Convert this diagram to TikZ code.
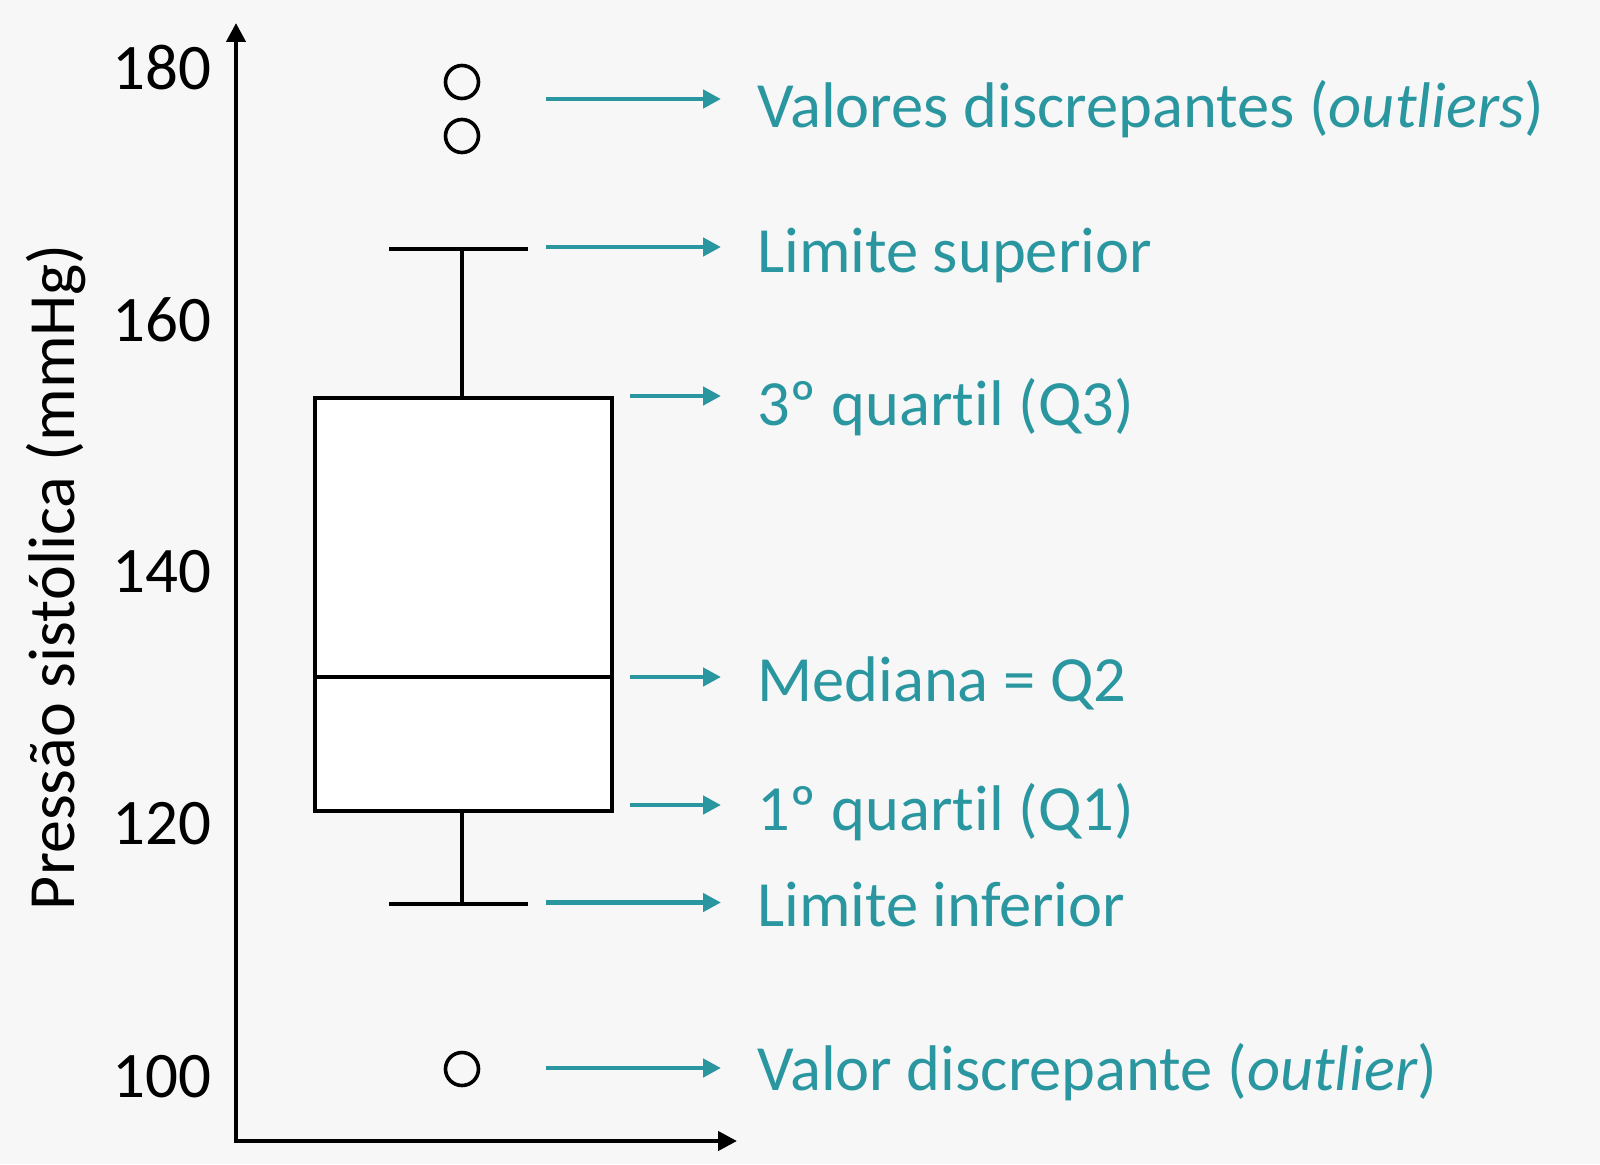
\documentclass[tikz,border=0pt]{standalone}
\usepackage{fontspec}
\setmainfont{Carlito}[Ligatures={NoCommon}]
\usetikzlibrary{arrows.meta}
\definecolor{tealc}{RGB}{41,150,160}
\definecolor{bgc}{RGB}{247,247,247}
\begin{document}
\begin{tikzpicture}[x=1pt,y=-1pt,
  blk/.style={line width=4.3pt,black},
  lbl/.style={text=tealc,font=\fontsize{64.5}{70}\selectfont,anchor=base west,inner sep=0pt},
  tickl/.style={font=\fontsize{65}{70}\selectfont,anchor=east,inner sep=0pt},
  ptr/.style={tealc,line width=4.6pt,-{Triangle[length=18pt,width=18pt]}},
  axisl/.style={line width=4.3pt,-{Triangle[length=19pt,width=19pt]}},
  outl/.style={circle,draw,line width=3.6pt,minimum size=33pt,inner sep=0pt}
]
\fill[bgc] (0,0) rectangle (1600,1164);
\useasboundingbox (0,0) rectangle (1600,1164);

% axes
\coordinate (Oy) at (236,1143);
\coordinate (Ox) at (234,1141);
\coordinate (Ytop) at (236,23);
\coordinate (Xend) at (737,1141);
\draw[axisl] (Oy) -- (Ytop);
\draw[axisl] (Ox) -- (Xend);

% tick labels
\node[tickl] (t180) at (212,68) {180};
\node[tickl] (t160) at (212,320) {160};
\node[tickl] (t140) at (212,572) {140};
\node[tickl] (t120) at (212,824) {120};
\node[tickl] (t100) at (212,1077) {100};

% axis title
\node[rotate=90,font=\fontsize{66}{70}\selectfont,inner sep=0pt] (ytitle) at (56,577) {Pressão sistólica (mmHg)};

% box
\coordinate (bxTL) at (315,398);
\coordinate (bxBR) at (612,811);
\draw[blk,fill=white] (bxTL) rectangle (bxBR);
\coordinate (medL) at (315,677);
\coordinate (medR) at (612,677);
\draw[blk,line width=3.8pt] (medL) -- (medR);
% whiskers
\coordinate (wTop) at (462,398);
\coordinate (wTopE) at (462,249);
\coordinate (capTL) at (389,249);
\coordinate (capTR) at (528,249);
\draw[blk] (wTop) -- (wTopE);
\draw[blk,line width=4.8pt] (capTL) -- (capTR);
\coordinate (wBot) at (462,811);
\coordinate (wBotE) at (462,904);
\coordinate (capBL) at (389,904);
\coordinate (capBR) at (528,904);
\draw[blk] (wBot) -- (wBotE);
\draw[blk,line width=4.8pt] (capBL) -- (capBR);

% outliers
\node[outl] (o1) at (462,82) {};
\node[outl] (o2) at (462,136) {};
\node[outl] (o3) at (462,1069) {};

% labels
\node[lbl] (l1) at (757,127.7) {Valores discrepantes ({\itshape outliers})};
\node[lbl] (l2) at (757,272.7) {Limite superior};
\node[lbl] (l3) at (757,425) {3º quartil (Q3)};
\node[lbl] (l4) at (757,701) {Mediana = Q2};
\node[lbl] (l5) at (757,830.7) {1º quartil (Q1)};
\node[lbl] (l6) at (757,926.7) {Limite inferior};
\node[lbl] (l7) at (757,1090) {Valor discrepante ({\itshape outlier})};

% pointer arrows
\coordinate (a1s) at (546,99);   \coordinate (a1e) at (721,99);
\coordinate (a2s) at (546,247);  \coordinate (a2e) at (721,247);
\coordinate (a3s) at (630,396);  \coordinate (a3e) at (721,396);
\coordinate (a4s) at (630,677);  \coordinate (a4e) at (721,677);
\coordinate (a5s) at (630,805);  \coordinate (a5e) at (721,805);
\coordinate (a6s) at (546,902.5);\coordinate (a6e) at (721,902.5);
\coordinate (a7s) at (546,1068); \coordinate (a7e) at (721,1068);
\foreach \i in {1,...,7} {\draw[ptr] (a\i s) -- (a\i e);}
\end{tikzpicture}
\end{document}
